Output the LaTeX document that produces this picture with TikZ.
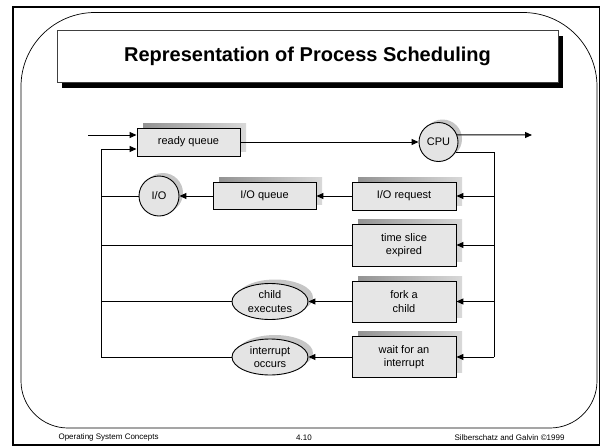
\documentclass[tikz,border=0pt]{standalone}
\usepackage{fontspec}
\setmainfont{Liberation Sans}
\usetikzlibrary{arrows.meta,shadows,shapes.geometric}
\definecolor{boxfill}{HTML}{E6E6E6}
\definecolor{ovalfill}{HTML}{E4E4E4}

\begin{document}
\begin{tikzpicture}[x=1pt,y=-1pt,
  conn/.style={line width=1pt},
  arr/.style={conn,-{Triangle[length=7pt,width=6pt]}},
  diagfont/.style={font=\fontsize{11}{13.3}\selectfont},
  qbox/.style={draw, line width=0.9pt, fill=boxfill, inner sep=0pt, align=center,
    diagfont, minimum width=104pt,
    general shadow={shadow xshift=6pt, shadow yshift=5pt, left color=gray!85, right color=gray!30}},
  roundnode/.style={draw, circle, line width=0.9pt, fill=ovalfill, inner sep=0pt,
    diagfont, minimum size=39pt,
    general shadow={shadow xshift=4pt, shadow yshift=3pt, fill=gray!45}},
  oval/.style={draw, ellipse, line width=0.9pt, fill=ovalfill, inner sep=0pt, align=center,
    diagfont, minimum width=76pt, minimum height=36pt,
    general shadow={shadow xshift=5pt, shadow yshift=4pt, fill=gray!45}},
  footer/.style={font=\fontsize{8}{9.5}\selectfont}
]
\useasboundingbox (0,0) rectangle (602,447);

% slide frame
\draw[line width=1.6pt] (13,7) rectangle (599.5,445);
\draw[line width=0.7pt]
  (21,86.5) .. controls (21,45.63) and (54.13,12.5) .. (95,12.5)
  -- (523,12.5) .. controls (563.87,12.5) and (597,45.63) .. (597,86.5)
  -- (597,381) .. controls (597,406.96) and (575.96,428) .. (550,428)
  -- (68,428) .. controls (42.04,428) and (21,406.96) .. (21,381) -- cycle;

% title
\node[draw=black!75, line width=0.7pt, fill=white, minimum width=501pt, minimum height=52pt,
  font=\fontsize{20}{24}\selectfont\bfseries,
  general shadow={shadow xshift=5pt, shadow yshift=-6pt, fill=black}]
  (title) at (307.5,56) {Representation of Process Scheduling};

% queues, servers and events
\node[qbox, minimum width=103pt, minimum height=28pt] (rq) at (188.5,142) {ready queue};
\node[roundnode] (cpu) at (438.5,142) {CPU};
\node[qbox, minimum height=28pt] (ioreq) at (404,196) {I/O request};
\node[qbox, minimum width=103pt, minimum height=27pt] (ioq) at (264.5,196) {I/O queue};
\node[roundnode, minimum size=40pt] (io) at (159,196) {I/O};
\node[qbox, minimum height=42pt] (ts) at (404,245) {time slice\\expired};
\node[qbox, minimum height=41pt] (fork) at (404,301.5) {fork a\\child};
\node[qbox, minimum height=41pt] (wait) at (404,357) {wait for an\\interrupt};
\node[oval] (child) at (270,301.5) {child\\executes};
\node[oval] (intr) at (270,357) {interrupt\\occurs};

% free ends and bus corners
\coordinate (src) at (88,135);
\coordinate (out) at (532,135);
\coordinate (rbus) at (494,357);
\coordinate (lbus) at (101,357);

% connectors
\draw[arr] (src) -- ([yshift=7pt]rq.west);
\draw[arr] (lbus) |- ([yshift=-7pt]rq.west);
\draw[arr] (rq.east) -- (cpu.west);
\draw[arr] (cpu.21) -- (out);
\draw[conn] (cpu.-31) -| (rbus);
\draw[arr] (ioreq.east -| rbus) -- (ioreq.east);
\draw[arr] (ts.east -| rbus) -- (ts.east);
\draw[arr] (fork.east -| rbus) -- (fork.east);
\draw[arr] (rbus) -- (wait.east);
\draw[arr] (ioreq.west) -- (ioq.east);
\draw[arr] (ioq.west) -- (io.east);
\draw[conn] (io.west) -- (io.west -| lbus);
\draw[conn] (ts.west) -- (ts.west -| lbus);
\draw[arr] (fork.west) -- (child.east);
\draw[conn] (child.west) -- (child.west -| lbus);
\draw[arr] (wait.west) -- (intr.east);
\draw[conn] (intr.west) -- (lbus);

% footer
\node[footer, anchor=base west] (f1) at (55,439) {Operating System Concepts};
\node[footer, anchor=base] (f2) at (304,440) {4.10};
\node[footer, anchor=base east] (f3) at (568,440) {Silberschatz and Galvin \textcopyright1999};
\end{tikzpicture}
\end{document}
